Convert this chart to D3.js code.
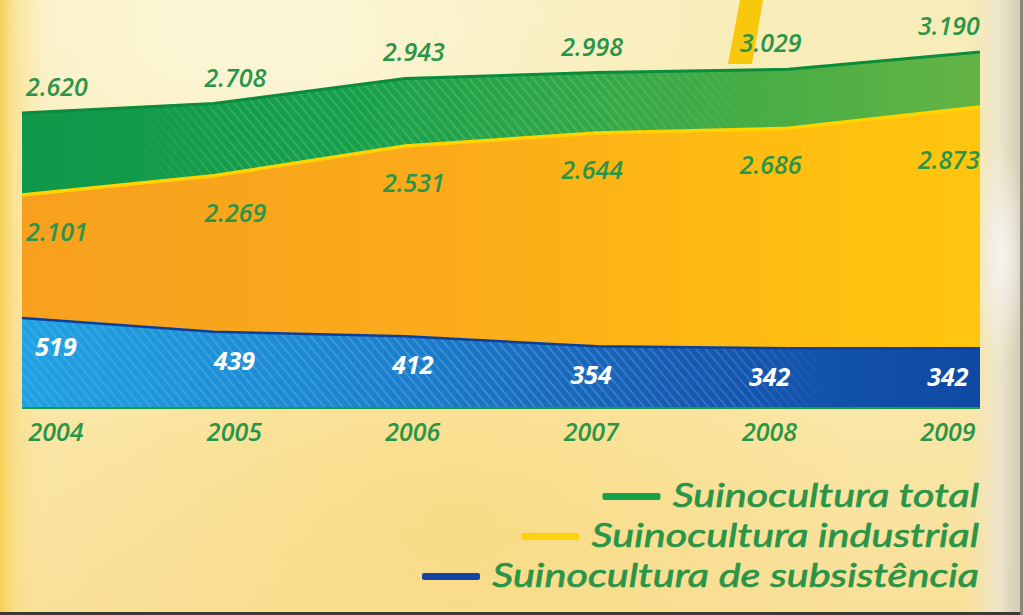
<!DOCTYPE html>
<html>
<head>
<meta charset="utf-8">
<script src="https://cdn.jsdelivr.net/npm/d3@7"></script>
<style>
  html, body { margin: 0; padding: 0; background: #fbe9a8; }
  svg { display: block; }
</style>
</head>
<body>
<svg id="chart" width="1023" height="615"></svg>
<script>
// ---- data ----
const years = ["2004", "2005", "2006", "2007", "2008", "2009"];
const total = [2620, 2708, 2943, 2998, 3029, 3190];
const industrial = [2101, 2269, 2531, 2644, 2686, 2873];
const subsistence = [519, 439, 412, 354, 342, 342];
const fmtPt = v => d3.format(",")(v).replace(/,/g, ".");
const legendLabels = ["Suinocultura total", "Suinocultura industrial", "Suinocultura de subsistência"];

// ---- layout ----
const W = 1023, H = 615;
const left = 22, right = 980, baseY = 407;
const svg = d3.select("#chart");
const defs = svg.append("defs");

// background gradients
const bg = defs.append("linearGradient").attr("id", "bg").attr("x1", 0).attr("y1", 0).attr("x2", 0).attr("y2", 1);
bg.append("stop").attr("offset", "0%").attr("stop-color", "#f8edbb");
bg.append("stop").attr("offset", "45%").attr("stop-color", "#fbeaae");
bg.append("stop").attr("offset", "100%").attr("stop-color", "#f9e09a");
const bgL = defs.append("linearGradient").attr("id", "bgL").attr("x1", 0).attr("y1", 0).attr("x2", 1).attr("y2", 0);
bgL.append("stop").attr("offset", "0%").attr("stop-color", "#f6cf52").attr("stop-opacity", 0.95);
bgL.append("stop").attr("offset", "1.5%").attr("stop-color", "#f9dc80").attr("stop-opacity", 0.6);
bgL.append("stop").attr("offset", "5%").attr("stop-color", "#fbe9a8").attr("stop-opacity", 0);
bgL.append("stop").attr("offset", "94%").attr("stop-color", "#f3e3b0").attr("stop-opacity", 0);
bgL.append("stop").attr("offset", "97.5%").attr("stop-color", "#ece6d2").attr("stop-opacity", 0.85);
bgL.append("stop").attr("offset", "100%").attr("stop-color", "#cfc7ae").attr("stop-opacity", 1);
const spot = defs.append("radialGradient").attr("id", "spot").attr("cx", 0.25).attr("cy", 0.05).attr("r", 0.45);
spot.append("stop").attr("offset", "0%").attr("stop-color", "#fdf8dc").attr("stop-opacity", 0.9);
spot.append("stop").attr("offset", "100%").attr("stop-color", "#fdf8dc").attr("stop-opacity", 0);
const warm = defs.append("radialGradient").attr("id", "warm").attr("cx", 0.45).attr("cy", 0.85).attr("r", 0.4);
warm.append("stop").attr("offset", "0%").attr("stop-color", "#f8d774").attr("stop-opacity", 0.6);
warm.append("stop").attr("offset", "100%").attr("stop-color", "#f8d774").attr("stop-opacity", 0);
const glow = defs.append("radialGradient").attr("id", "glow").attr("gradientUnits", "userSpaceOnUse")
  .attr("cx", 1002).attr("cy", 255).attr("r", 110).attr("gradientTransform", "translate(1002 255) scale(0.25 1) translate(-1002 -255)");
glow.append("stop").attr("offset", "0%").attr("stop-color", "#f4f3ee").attr("stop-opacity", 1);
glow.append("stop").attr("offset", "100%").attr("stop-color", "#f4f3ee").attr("stop-opacity", 0);

svg.append("rect").attr("width", W).attr("height", H).attr("fill", "url(#bg)");
svg.append("rect").attr("width", W).attr("height", H).attr("fill", "url(#warm)");
svg.append("rect").attr("width", W).attr("height", H).attr("fill", "url(#spot)");
svg.append("rect").attr("width", W).attr("height", H).attr("fill", "url(#bgL)");
svg.append("rect").attr("width", W).attr("height", H).attr("fill", "url(#glow)");

// decorative yellow beam at top
svg.append("path").attr("d", "M740,0 L763,0 L752,64 L728,64 Z").attr("fill", "#f8c80c");

// area gradients
function hGrad(id, stops) {
  const g = defs.append("linearGradient").attr("id", id).attr("gradientUnits", "userSpaceOnUse")
    .attr("x1", left).attr("y1", 0).attr("x2", right).attr("y2", 0);
  stops.forEach(s => g.append("stop").attr("offset", s[0]).attr("stop-color", s[1]));
}
hGrad("gGreen", [["0%", "#0f984a"], ["35%", "#17a04a"], ["70%", "#3eab45"], ["100%", "#64b444"]]);
hGrad("gOrange", [["0%", "#f7a01f"], ["45%", "#fbab1a"], ["75%", "#ffbb12"], ["100%", "#ffc60e"]]);
hGrad("gBlue", [["0%", "#20a2e2"], ["35%", "#1b84d0"], ["70%", "#1559b2"], ["100%", "#0f4aa2"]]);

// hatch pattern
const pat = defs.append("pattern").attr("id", "hatch").attr("patternUnits", "userSpaceOnUse")
  .attr("width", 7).attr("height", 7).attr("patternTransform", "rotate(-40)");
pat.append("rect").attr("width", 2).attr("height", 7).attr("fill", "#ffffff");
function fadeMask(id, stops) {
  const g = defs.append("linearGradient").attr("id", id + "G").attr("gradientUnits", "userSpaceOnUse")
    .attr("x1", left).attr("y1", 0).attr("x2", right).attr("y2", 0);
  stops.forEach(s => g.append("stop").attr("offset", s[0]).attr("stop-color", "#fff").attr("stop-opacity", s[1]));
  defs.append("mask").attr("id", id).attr("maskUnits", "userSpaceOnUse")
    .attr("x", 0).attr("y", 0).attr("width", W).attr("height", H)
    .append("rect").attr("width", W).attr("height", H).attr("fill", `url(#${id}G)`);
}
fadeMask("mGreen", [["0%", 0], ["11%", 0], ["22%", 1], ["60%", 1], ["80%", 0], ["100%", 0]]);
fadeMask("mBlue", [["0%", 0.6], ["50%", 1], ["75%", 0.8], ["85%", 0], ["100%", 0]]);

// ---- scales ----
const x = d3.scalePoint().domain(years).range([left, right]);              // area vertices
const xl = d3.scalePoint().domain(years).range([left, right]).padding(0.185); // label anchors
const ySub = d3.scaleLinear().domain([0, d3.max(subsistence)]).range([baseY, 318]);
const yInd = d3.scaleLinear().domain(d3.extent(industrial)).range([195, 107]);
const yTot = d3.scaleLinear().domain(d3.extent(total)).range([113, 52]);

const pts = vals => years.map((yr, i) => ({ x: x(yr), v: vals[i] }));
const area = ys => d3.area().x(d => d.x).y0(baseY).y1(d => ys(d.v));
const line = ys => d3.line().x(d => d.x).y(d => ys(d.v));

const g = svg.append("g");
// total (green)
g.append("path").datum(pts(total)).attr("d", area(yTot)).attr("fill", "url(#gGreen)");
g.append("path").datum(pts(total)).attr("d", area(yTot)).attr("fill", "url(#hatch)").attr("opacity", 0.13).attr("mask", "url(#mGreen)");
g.append("path").datum(pts(total)).attr("d", line(yTot)).attr("fill", "none").attr("stroke", "#0a8c3c").attr("stroke-width", 3);
// industrial (orange)
g.append("path").datum(pts(industrial)).attr("d", area(yInd)).attr("fill", "url(#gOrange)");
g.append("path").datum(pts(industrial)).attr("d", line(yInd)).attr("fill", "none").attr("stroke", "#ffd400").attr("stroke-width", 3.5);
// subsistence (blue)
g.append("path").datum(pts(subsistence)).attr("d", area(ySub)).attr("fill", "url(#gBlue)");
g.append("path").datum(pts(subsistence)).attr("d", area(ySub)).attr("fill", "url(#hatch)").attr("opacity", 0.16).attr("mask", "url(#mBlue)");
g.append("path").datum(pts(subsistence)).attr("d", line(ySub)).attr("fill", "none").attr("stroke", "#0c3f98").attr("stroke-width", 2.5);
// baseline
g.append("line").attr("x1", left).attr("x2", right).attr("y1", baseY + 1).attr("y2", baseY + 1)
  .attr("stroke", "#1a9a48").attr("stroke-width", 2);

// ---- labels ----
const font = "'Open Sans', 'Noto Sans', sans-serif";
const green = "#2a9548";
const lab = svg.append("g").attr("font-family", font).attr("font-style", "italic")
  .attr("font-size", 25).attr("font-weight", 600).attr("text-anchor", "middle");
lab.selectAll(".tot").data(total).join("text")
  .attr("x", (d, i) => xl(years[i]) + 2).attr("y", d => yTot(d) - 17)
  .attr("fill", green).text(fmtPt);
lab.selectAll(".ind").data(industrial).join("text")
  .attr("x", (d, i) => xl(years[i]) + 2).attr("y", d => Math.max(yInd(d) + 46, 169))
  .attr("fill", green).text(fmtPt);
lab.selectAll(".sub").data(subsistence).join("text")
  .attr("x", (d, i) => xl(years[i]) + 1).attr("y", d => ySub(d) + 38)
  .attr("fill", "#ffffff").attr("font-weight", 700).text(fmtPt);
lab.selectAll(".yr").data(years).join("text")
  .attr("x", d => xl(d) + 1).attr("y", 441)
  .attr("fill", green).text(d => d);

// ---- legend ----
const legColors = ["#16a04a", "#fcd20a", "#1546a6"];
const legRight = 979, legWidest = 487, legTop = 507, legStep = 40;
const leg = svg.append("g").attr("font-family", "Lato, 'Open Sans', sans-serif").attr("font-style", "italic")
  .attr("font-size", 33);
const rows = legendLabels.map((t, i) => {
  const txt = leg.append("text").attr("x", 0).attr("y", 0).attr("text-anchor", "end")
    .attr("fill", green).attr("stroke", green).attr("stroke-width", 0.7).text(t);
  return { txt, w: txt.node().getComputedTextLength(), i };
});
const sx = legWidest / d3.max(rows, r => r.w);
rows.forEach(r => {
  const ty = legTop + r.i * legStep;
  r.txt.attr("transform", `translate(${legRight},${ty}) scale(${sx},1)`);
  leg.append("rect").attr("x", legRight - r.w * sx - 70).attr("y", ty - 14).attr("width", 58).attr("height", 7)
    .attr("rx", 2).attr("fill", legColors[r.i]);
});

// frame edges
svg.append("rect").attr("x", 0).attr("y", H - 3).attr("width", W).attr("height", 3).attr("fill", "#3a3a33");
svg.append("rect").attr("x", W - 3).attr("y", 0).attr("width", 3).attr("height", H).attr("fill", "#8a8578");
</script>
</body>
</html>
